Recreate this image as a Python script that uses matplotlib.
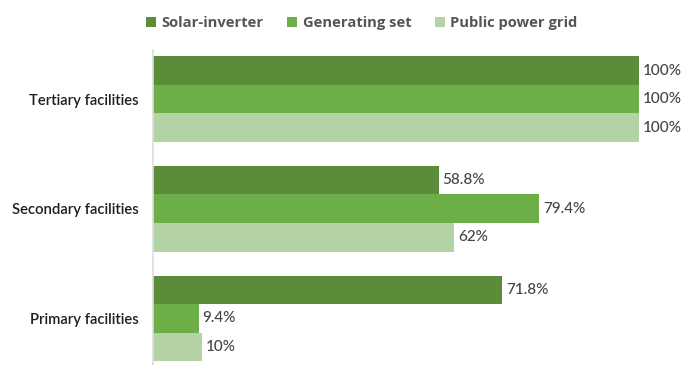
import matplotlib
matplotlib.use("Agg")
import matplotlib.pyplot as plt
from matplotlib.patches import Patch
import numpy as np

categories = ["Primary facilities", "Secondary facilities", "Tertiary facilities"]
series_names = ["Solar-inverter", "Generating set", "Public power grid"]
solar_inverter = [71.8, 58.8, 100]
generating_set = [9.4, 79.4, 100]
public_grid = [10, 62, 100]
value_labels = [
    ["71.8%", "58.8%", "100%"],
    ["9.4%", "79.4%", "100%"],
    ["10%", "62%", "100%"],
]

colors = ["#5b8c3a", "#6cae47", "#b4d3a5"]
series = [solar_inverter, generating_set, public_grid]

fig = plt.figure(figsize=(6.98, 3.65), dpi=100)
ax = fig.add_axes([153 / 698, 0.0, 486 / 698, 315 / 365])

y = np.arange(len(categories))
h = 0.26
offsets = [h, 0, -h]
for vals, off, col, labs in zip(series, offsets, colors, value_labels):
    bars = ax.barh(y + off, vals, height=h, color=col, edgecolor="none")
    for b, lab in zip(bars, labs):
        ax.text(b.get_width() + 0.8, b.get_y() + b.get_height() / 2, lab,
                va="center", ha="left", fontsize=11, family="Lato",
                fontweight="medium", color="#444444")

ax.set_xlim(0, 100)
ax.set_ylim(-0.424, 2.447)
ax.set_yticks(y)
ax.set_yticklabels(categories, family="Lato", fontsize=10.7,
                   fontweight="semibold", color="#1e1e1e")
ax.tick_params(axis="y", length=0, pad=10)
ax.set_xticks([])
for s in ["top", "right", "bottom"]:
    ax.spines[s].set_visible(False)
ax.spines["left"].set_color("#dddddd")
ax.spines["left"].set_linewidth(1.2)

handles = [Patch(facecolor=c, edgecolor="none") for c in colors]
leg = fig.legend(handles, series_names, loc="center left",
                 bbox_to_anchor=(146 / 698, 1 - 23 / 365), ncol=3,
                 frameon=False, handlelength=0.7, handleheight=0.7,
                 handletextpad=0.35, columnspacing=1.6,
                 borderpad=0, borderaxespad=0,
                 prop={"family": "Open Sans", "weight": "bold", "size": 10.6})
for t in leg.get_texts():
    t.set_color("#555555")

fig.savefig("out.png", dpi=100)
